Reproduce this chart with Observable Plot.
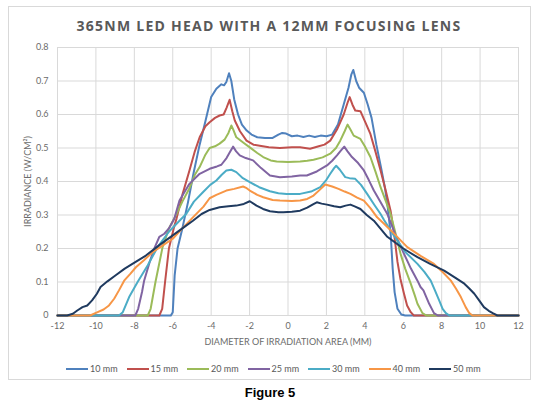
<!DOCTYPE html>
<html><head><meta charset="utf-8">
<script src="https://cdn.jsdelivr.net/npm/d3@7"></script>
<script src="https://cdn.jsdelivr.net/npm/@observablehq/plot@0.6"></script>
<style>
body{margin:0;width:540px;height:405px;position:relative;background:#fff;overflow:hidden;}
#frame{position:absolute;left:8px;top:6px;width:523px;height:374px;border:1px solid #d9d9d9;box-sizing:border-box;}
#title{position:absolute;left:0;top:16px;width:538px;text-align:center;font:bold 14px "Open Sans";letter-spacing:1.25px;color:#595959;}
#chart{position:absolute;left:0;top:0;}
#legend{position:absolute;top:363px;left:0;width:540px;height:14px;font:9px Lato;color:#595959;}
.item{position:absolute;top:0;display:flex;align-items:center;white-space:nowrap;}
.item span{margin-left:2px;}
#fig{position:absolute;top:385px;left:0;width:540px;text-align:center;font:bold 13px "Liberation Sans";color:#000;}
</style></head>
<body>
<div id="frame"></div>
<div id="title">365NM LED HEAD WITH A 12MM FOCUSING LENS</div>
<div id="chart"></div>
<div id="legend"></div>
<div id="fig">Figure 5</div>
<script>
const seriesNames = ["10 mm","15 mm","20 mm","25 mm","30 mm","40 mm","50 mm"];
const seriesColors = ["#4F81BD","#C0504D","#9BBB59","#8064A2","#4BACC6","#F79646","#1F3A5F"];
const xTicks = [-12,-10,-8,-6,-4,-2,0,2,4,6,8,10,12];
const yTicks = [0,0.1,0.2,0.3,0.4,0.5,0.6,0.7,0.8];

const s10 = [[-12,0],[-6.1,0],[-6.0,0.01],[-5.9,0.12],[-5.75,0.2],[-5.5,0.26],[-5.2,0.34],[-4.9,0.43],[-4.6,0.51],[-4.3,0.58],[-4.0,0.652],[-3.73,0.677],[-3.47,0.69],[-3.33,0.687],[-3.21,0.697],[-3.07,0.723],[-2.95,0.70],[-2.8,0.645],[-2.6,0.6],[-2.4,0.57],[-2.15,0.552],[-1.9,0.54],[-1.6,0.532],[-1.2,0.53],[-0.8,0.53],[-0.5,0.54],[-0.3,0.545],[-0.1,0.543],[0.2,0.535],[0.5,0.537],[0.8,0.533],[1.1,0.537],[1.4,0.533],[1.7,0.537],[2.0,0.535],[2.3,0.54],[2.6,0.57],[2.9,0.63],[3.15,0.68],[3.3,0.72],[3.4,0.733],[3.55,0.70],[3.7,0.68],[3.95,0.665],[4.15,0.63],[4.35,0.59],[4.6,0.51],[4.85,0.44],[5.05,0.38],[5.2,0.32],[5.35,0.24],[5.45,0.14],[5.55,0.07],[5.7,0.02],[5.9,0.003],[6.1,0],[12,0]];
const s15 = [[-12,0],[-6.7,0],[-6.55,0.02],[-6.4,0.1],[-6.2,0.2],[-5.95,0.26],[-5.8,0.29],[-5.5,0.36],[-5.13,0.433],[-4.85,0.49],[-4.6,0.532],[-4.3,0.565],[-4.08,0.577],[-3.8,0.59],[-3.56,0.597],[-3.35,0.6],[-3.2,0.62],[-3.04,0.644],[-2.9,0.61],[-2.77,0.582],[-2.5,0.55],[-2.16,0.522],[-1.8,0.51],[-1.47,0.507],[-1.0,0.502],[-0.42,0.5],[0.2,0.502],[0.63,0.502],[1.15,0.498],[1.6,0.505],[1.9,0.51],[2.2,0.522],[2.55,0.555],[2.9,0.60],[3.1,0.635],[3.21,0.652],[3.35,0.63],[3.5,0.612],[3.77,0.61],[4.0,0.58],[4.29,0.542],[4.55,0.49],[4.82,0.433],[5.1,0.37],[5.34,0.313],[5.51,0.25],[5.7,0.16],[5.85,0.11],[6.04,0.065],[6.2,0.03],[6.39,0.01],[6.55,0],[12,0]];
const s20 = [[-12,0],[-7.3,0],[-7.15,0.02],[-6.9,0.1],[-6.53,0.204],[-6.2,0.26],[-5.83,0.30],[-5.5,0.34],[-5.13,0.38],[-4.85,0.42],[-4.6,0.443],[-4.3,0.48],[-4.08,0.50],[-3.8,0.505],[-3.56,0.513],[-3.3,0.525],[-3.1,0.545],[-2.95,0.567],[-2.85,0.555],[-2.69,0.532],[-2.3,0.515],[-1.99,0.502],[-1.6,0.485],[-1.29,0.473],[-0.9,0.463],[-0.59,0.46],[0,0.458],[0.63,0.46],[1.0,0.462],[1.33,0.465],[1.8,0.472],[2.2,0.483],[2.5,0.50],[2.72,0.522],[2.95,0.55],[3.1,0.57],[3.25,0.555],[3.42,0.537],[3.77,0.527],[4.0,0.505],[4.29,0.473],[4.55,0.43],[4.82,0.383],[5.1,0.34],[5.34,0.303],[5.6,0.245],[5.86,0.184],[6.1,0.14],[6.39,0.095],[6.6,0.06],[6.74,0.035],[7.0,0.007],[7.2,0],[12,0]];
const s25 = [[-12,0],[-7.95,0],[-7.8,0.02],[-7.6,0.07],[-7.49,0.104],[-7.2,0.16],[-6.96,0.2],[-6.7,0.235],[-6.44,0.244],[-6.2,0.26],[-5.92,0.289],[-5.65,0.343],[-5.13,0.393],[-4.6,0.423],[-4.08,0.438],[-3.7,0.445],[-3.47,0.45],[-3.2,0.47],[-3.0,0.49],[-2.86,0.504],[-2.7,0.49],[-2.51,0.478],[-2.2,0.47],[-1.82,0.463],[-1.4,0.44],[-0.94,0.418],[-0.42,0.413],[0.2,0.415],[0.63,0.418],[0.98,0.418],[1.5,0.43],[2.03,0.448],[2.3,0.462],[2.55,0.478],[2.75,0.492],[2.93,0.504],[3.1,0.49],[3.33,0.473],[3.65,0.455],[3.95,0.433],[4.2,0.405],[4.47,0.373],[4.8,0.34],[5.17,0.303],[5.6,0.24],[6.04,0.184],[6.4,0.14],[6.74,0.104],[6.9,0.085],[7.05,0.075],[7.2,0.055],[7.35,0.035],[7.6,0.007],[7.8,0],[12,0]];
const s30 = [[-12,0],[-8.8,0],[-8.6,0.01],[-8.27,0.055],[-7.83,0.1],[-7.3,0.15],[-6.79,0.204],[-6.2,0.25],[-5.65,0.283],[-5.3,0.303],[-4.9,0.34],[-4.43,0.368],[-4.05,0.39],[-3.73,0.403],[-3.45,0.42],[-3.21,0.433],[-2.95,0.435],[-2.69,0.428],[-2.35,0.41],[-1.99,0.398],[-1.5,0.383],[-0.94,0.371],[-0.5,0.365],[-0.07,0.363],[0.63,0.363],[1.2,0.37],[1.68,0.383],[2.0,0.405],[2.2,0.423],[2.4,0.44],[2.51,0.447],[2.7,0.435],[2.98,0.413],[3.2,0.41],[3.5,0.408],[3.8,0.39],[4.12,0.363],[4.5,0.33],[4.82,0.303],[5.0,0.285],[5.5,0.24],[6.1,0.19],[6.74,0.154],[7.1,0.13],[7.43,0.104],[7.65,0.075],[7.87,0.045],[8.05,0.02],[8.22,0.007],[8.4,0],[12,0]];
const s40 = [[-12,0],[-10.3,0],[-10.0,0.008],[-9.6,0.018],[-9.32,0.03],[-9.05,0.05],[-8.8,0.075],[-8.53,0.104],[-8.2,0.125],[-7.92,0.144],[-7.5,0.165],[-7.05,0.189],[-6.5,0.21],[-6.0,0.229],[-5.5,0.26],[-4.95,0.293],[-4.4,0.325],[-4.08,0.35],[-3.73,0.36],[-3.21,0.373],[-2.8,0.378],[-2.34,0.385],[-2.15,0.38],[-1.99,0.373],[-1.6,0.36],[-1.29,0.353],[-0.8,0.345],[-0.42,0.343],[0.2,0.342],[0.63,0.343],[1.0,0.348],[1.33,0.358],[1.65,0.375],[1.94,0.391],[2.3,0.385],[2.63,0.378],[2.95,0.37],[3.25,0.363],[3.6,0.352],[3.95,0.343],[4.3,0.32],[4.64,0.293],[5.0,0.274],[5.6,0.24],[6.21,0.204],[6.9,0.178],[7.6,0.154],[8.05,0.13],[8.48,0.104],[8.75,0.08],[9.0,0.055],[9.25,0.025],[9.44,0.007],[9.6,0],[12,0]];
const s50 = [[-12,0],[-11.5,0],[-11.2,0.005],[-10.97,0.015],[-10.7,0.025],[-10.45,0.03],[-10.2,0.045],[-9.95,0.065],[-9.76,0.085],[-9.4,0.102],[-8.97,0.12],[-8.5,0.14],[-8.1,0.154],[-7.4,0.179],[-6.7,0.21],[-6.0,0.239],[-5.5,0.26],[-4.95,0.283],[-4.5,0.303],[-4.08,0.315],[-3.56,0.323],[-3.1,0.326],[-2.69,0.328],[-2.3,0.333],[-1.99,0.341],[-1.64,0.328],[-1.3,0.318],[-0.94,0.311],[-0.5,0.308],[-0.24,0.308],[0.2,0.31],[0.63,0.313],[1.0,0.322],[1.3,0.332],[1.5,0.338],[1.75,0.334],[2.03,0.331],[2.4,0.326],[2.72,0.323],[3.0,0.328],[3.25,0.331],[3.5,0.325],[3.77,0.318],[4.1,0.3],[4.47,0.283],[5.17,0.235],[6.0,0.2],[6.74,0.174],[7.4,0.154],[8.13,0.134],[8.7,0.113],[9.18,0.095],[9.45,0.08],[9.7,0.065],[9.95,0.045],[10.2,0.025],[10.45,0.014],[10.66,0.007],[10.9,0],[12,0]];

const allSeries = [s10,s15,s20,s25,s30,s40,s50];
const data = allSeries.flatMap((s,i)=>s.map(([x,v])=>({series:seriesNames[i],x,v})));

const fmt = d => String(d);
const chart = Plot.plot({
  width:540, height:348,
  marginLeft:57, marginRight:22, marginTop:47, marginBottom:33,
  style:{fontFamily:"Lato", fontSize:"9px", color:"#595959", background:"transparent"},
  x:{domain:[-12,12]},
  y:{domain:[0,0.8]},
  color:{domain:seriesNames, range:seriesColors},
  marks:[
    Plot.gridX(xTicks,{stroke:"#d9d9d9", strokeOpacity:1}),
    Plot.gridY(yTicks,{stroke:"#d9d9d9", strokeOpacity:1}),
    Plot.axisX(xTicks,{tickSize:0, tickPadding:7, tickFormat:fmt, label:"DIAMETER OF IRRADIATION AREA (MM)", labelAnchor:"center", labelArrow:"none", labelOffset:29, fill:"#6b6b6b"}),
    Plot.axisY(yTicks,{tickSize:0, tickPadding:9, tickFormat:fmt, label:"IRRADIANCE (W/CM²)", labelAnchor:"center", labelArrow:"none", labelOffset:33, fill:"#6b6b6b"}),
    Plot.line(data,{x:"x", y:"v", z:"series", stroke:"series", strokeWidth:2, curve:"linear"})
  ]
});
document.getElementById("chart").appendChild(chart);

const legend = document.getElementById("legend");
seriesNames.forEach((n,i)=>{
  const it = document.createElement("div");
  it.className="item";
  it.style.left = (66 + i*60.5) + "px";
  it.innerHTML = `<svg width="22" height="6"><line x1="0" y1="3" x2="22" y2="3" stroke="${seriesColors[i]}" stroke-width="2"/></svg><span>${n}</span>`;
  legend.appendChild(it);
});
</script>
</body></html>
